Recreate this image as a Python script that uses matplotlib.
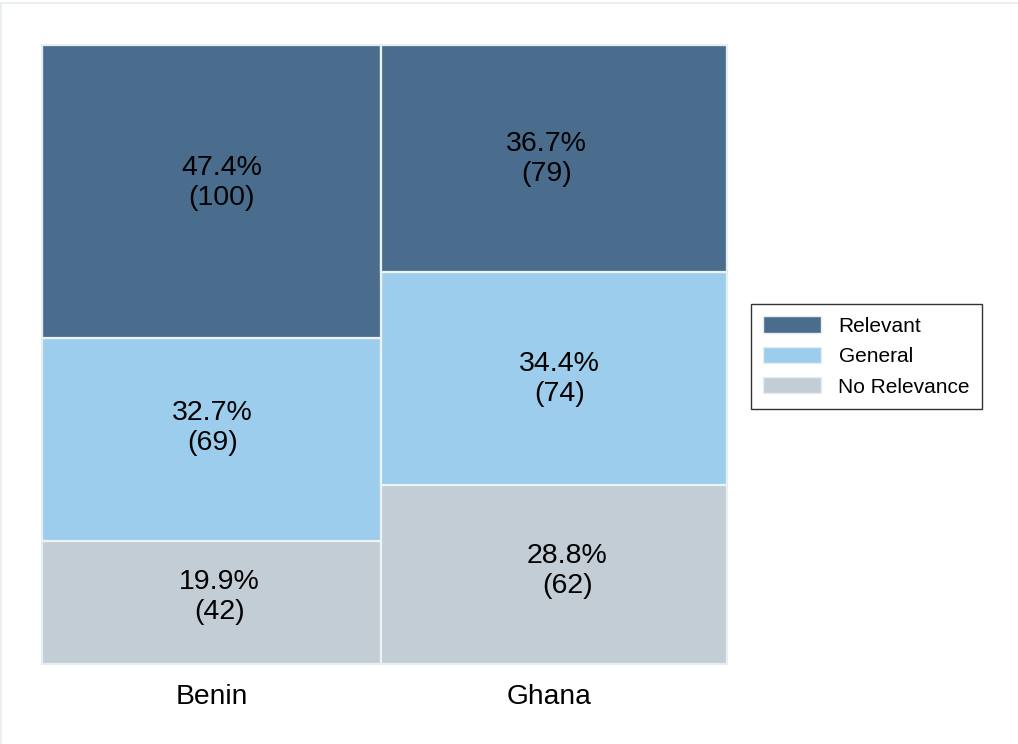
import matplotlib
matplotlib.use("Agg")
import matplotlib.pyplot as plt
from matplotlib.patches import Patch, Rectangle
from matplotlib.transforms import ScaledTranslation
import numpy as np

plt.rcParams['font.family'] = ['Liberation Sans', 'DejaVu Sans']

countries = ["Benin", "Ghana"]
categories = ["Relevant", "General", "No Relevance"]
counts = {
    "Relevant": [100, 79],
    "General": [69, 74],
    "No Relevance": [42, 62],
}
colors = {"Relevant": "#4a6d8d", "General": "#9dcdec", "No Relevance": "#c3cdd6"}

# label nudges in pixels (dx right, dy up), per category per country
label_nudge = {
    "Relevant": [(10, 8.5), (-8, 0)],
    "General": [(0.5, 12), (5, 0)],
    "No Relevance": [(7.5, 5), (13, 3.5)],
}
tick_nudge = [0, -5.5]

fig = plt.figure(figsize=(10.18, 7.44), dpi=100)
W, H = 1018, 744
ax = fig.add_axes([42 / W, 1 - 664 / H, 685 / W, 619 / H])

counts_arr = np.array([counts[c] for c in categories], dtype=float)  # cat x country
col_tot = counts_arr.sum(axis=0)
widths = col_tot / col_tot.sum()
lefts = np.concatenate([[0], np.cumsum(widths)[:-1]])
fracs = counts_arr / col_tot

order = ["No Relevance", "General", "Relevant"]
bottoms = np.zeros(len(countries))
for cat in order:
    i = categories.index(cat)
    h = fracs[i]
    ax.bar(lefts, h, width=widths, bottom=bottoms, align='edge',
           color=colors[cat], edgecolor='#edf3f5', linewidth=1.6)
    for j in range(len(countries)):
        dx, dy = label_nudge[cat][j]
        ax.annotate(f"{h[j]*100:.1f}%\n({int(counts_arr[i, j])})",
                    xy=(lefts[j] + widths[j] / 2, bottoms[j] + h[j] / 2),
                    xytext=(dx * 0.72, dy * 0.72), textcoords='offset points',
                    ha='center', va='center', fontsize=20.5, color='black',
                    linespacing=1.2)
    bottoms = bottoms + h

ax.set_xlim(0, 1)
ax.set_ylim(0, 1)
ax.set_yticks([])
ax.set_xticks(lefts + widths / 2)
ax.set_xticklabels(countries, fontsize=20.3)
ax.tick_params(axis='x', length=0, pad=14.6)
for lab, dx in zip(ax.get_xticklabels(), tick_nudge):
    lab.set_transform(lab.get_transform() + ScaledTranslation(dx / 100, 0, fig.dpi_scale_trans))
for s in ax.spines.values():
    s.set_color('#e6eef0')
    s.set_linewidth(1.5)

handles = [Patch(facecolor=colors[c], edgecolor='#e8eef0', linewidth=1.0, label=c)
           for c in categories]
leg = fig.legend(handles=handles, loc='center left',
                 bbox_to_anchor=(751 / W, 1 - 356.5 / H), fontsize=15,
                 frameon=True, fancybox=False, edgecolor='black',
                 handlelength=2.8, handleheight=0.82, labelspacing=0.53,
                 handletextpad=0.82, borderpad=0.58, borderaxespad=0)
leg.get_frame().set_linewidth(1.0)

fig.patches.append(Rectangle((1 / W, -0.1), 1.2, 1 - 3 / H + 0.1,
                             transform=fig.transFigure, fill=False,
                             edgecolor='#e6ecee', linewidth=1.2))

fig.savefig("out.png", dpi=100, facecolor='white')
